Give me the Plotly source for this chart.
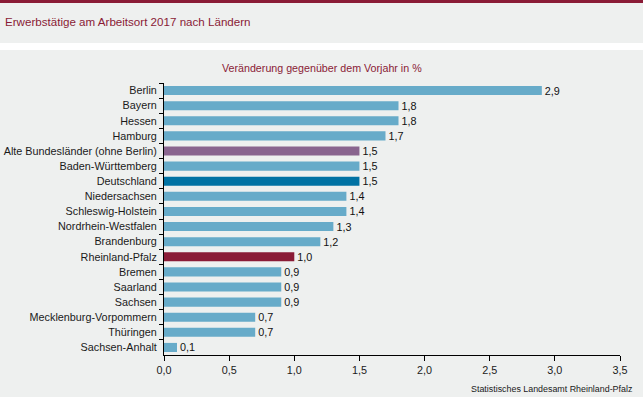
import plotly.graph_objects as go

categories = ["Berlin", "Bayern", "Hessen", "Hamburg", "Alte Bundesländer (ohne Berlin)",
              "Baden-Württemberg", "Deutschland", "Niedersachsen", "Schleswig-Holstein",
              "Nordrhein-Westfalen", "Brandenburg", "Rheinland-Pfalz", "Bremen", "Saarland",
              "Sachsen", "Mecklenburg-Vorpommern", "Thüringen", "Sachsen-Anhalt"]
values = [2.9, 1.8, 1.8, 1.7, 1.5, 1.5, 1.5, 1.4, 1.4, 1.3, 1.2, 1.0, 0.9, 0.9, 0.9, 0.7, 0.7, 0.1]
x_ticks = [0, 0.5, 1.0, 1.5, 2.0, 2.5, 3.0, 3.5]

LIGHT = "#67abc9"
special = {"Alte Bundesländer (ohne Berlin)": "#89648e",
           "Deutschland": "#0072a3",
           "Rheinland-Pfalz": "#8a1b36"}
colors = [special.get(c, LIGHT) for c in categories]
labels = [f"{v:.1f}".replace(".", ",") for v in values]

W, H = 643, 397
L, R, T, B = 164, 23, 83, 42
PW, PH = W - L - R, H - T - B

def py(p):
    return (H - B - p) / PH

def px(p):
    return (p - L) / PW

GRAY = "#eef0ef"
RED = "#8a1b36"
FONT = "Liberation Sans, Arial, sans-serif"

fig = go.Figure(go.Bar(
    x=values, y=categories, orientation="h",
    marker=dict(color=colors, line=dict(width=0)),
    width=0.6,
    text=labels, textposition="outside", cliponaxis=False, constraintext="none",
    textfont=dict(size=10.8, color="#111", family=FONT),
))

fig.update_layout(
    width=W, height=H,
    margin=dict(l=L, r=R, t=T, b=B),
    paper_bgcolor=GRAY, plot_bgcolor=GRAY,
    separators=",.",
    showlegend=False,
    font=dict(family=FONT, size=10.8, color="#1a1a1a"),
    xaxis=dict(range=[0, 3.5], tickvals=x_ticks, tickformat=".1f", automargin=False,
               showgrid=False, zeroline=False, showline=True, linecolor="black", linewidth=1,
               ticks="outside", ticklen=5, tickcolor="black", tickwidth=1,
               tickfont=dict(size=10.8, color="#1a1a1a")),
    yaxis=dict(autorange="reversed", showgrid=False, zeroline=False, automargin=False,
               showline=True, linecolor="black", linewidth=1,
               ticks="outside", tickson="boundaries", ticklen=4, tickcolor="black",
               ticklabelstandoff=4,
               tickfont=dict(size=10.8, color="#1a1a1a")),
    shapes=[
        dict(type="rect", xref="paper", yref="paper", x0=px(0), x1=px(W), y0=py(3), y1=py(0),
             fillcolor=RED, line=dict(width=0), layer="above"),
        dict(type="rect", xref="paper", yref="paper", x0=px(0), x1=px(W), y0=py(50), y1=py(43),
             fillcolor="white", line=dict(width=0), layer="above"),
    ],
    annotations=[
        dict(text="Erwerbstätige am Arbeitsort 2017 nach Ländern", xref="paper", yref="paper",
             x=px(3), y=py(22), xanchor="left", yanchor="middle", showarrow=False,
             font=dict(size=11.6, color=RED, family=FONT)),
        dict(text="Veränderung gegenüber dem Vorjahr in %", xref="paper", yref="paper",
             x=px(321.5), y=py(68), xanchor="center", yanchor="middle", showarrow=False,
             font=dict(size=10.7, color=RED, family=FONT)),
        dict(text="Statistisches Landesamt Rheinland-Pfalz", xref="paper", yref="paper",
             x=px(634), y=py(389), xanchor="right", yanchor="middle", showarrow=False,
             font=dict(size=8.9, color="#1a1a1a", family=FONT)),
    ],
)

fig.write_html("out.html", config={"displayModeBar": False},
               post_script="document.body.style.margin='0';document.body.style.overflow='hidden';")
